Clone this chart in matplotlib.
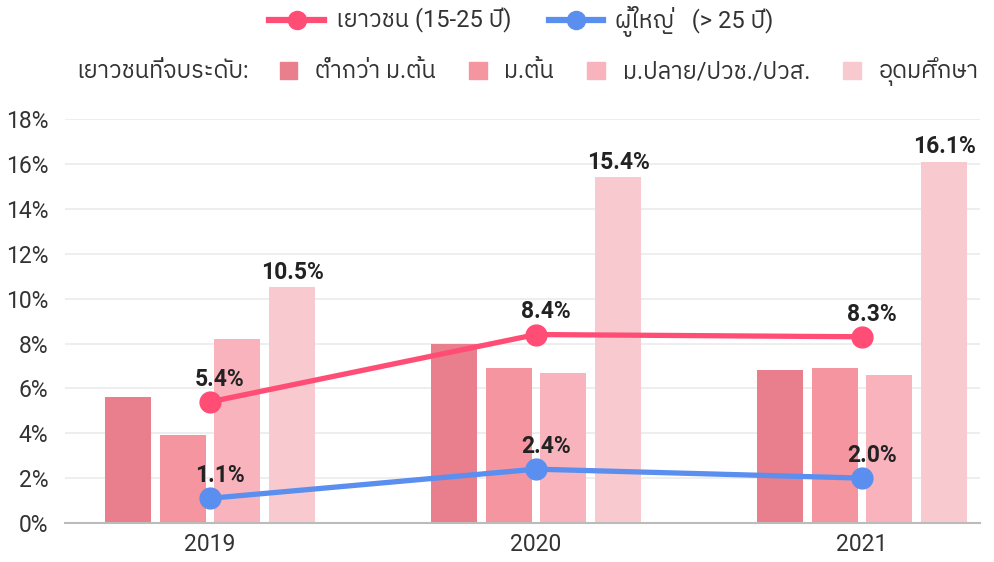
import matplotlib
matplotlib.use("Agg")
import matplotlib.pyplot as plt
from matplotlib import font_manager
from matplotlib.patches import Patch
from matplotlib.lines import Line2D
import numpy as np

# ข้อมูล
years = ["2019", "2020", "2021"]
bar_labels = ["ต่ำกว่า ม.ต้น", "ม.ต้น", "ม.ปลาย/ปวช./ปวส.", "อุดมศึกษา"]
below_lower = [5.6, 8.0, 6.8]
lower_sec = [3.9, 6.9, 6.9]
upper_sec = [8.2, 6.7, 6.6]
higher_ed = [10.5, 15.4, 16.1]
youth = [5.4, 8.4, 8.3]
adult = [1.1, 2.4, 2.0]
line_labels = ["เยาวชน (15-25 ปี)", "ผู้ใหญ่   (> 25 ปี)"]
group_title = "เยาวชนที่จบระดับ:"

# หา font ที่มีภาษาไทย
thai_fonts = sorted({f.name for f in font_manager.fontManager.ttflist if "Thai" in f.name})
fams = ["Roboto"] + thai_fonts + ["Noto Sans", "DejaVu Sans"]
plt.rcParams["font.family"] = fams

bar_colors = ["#e97e8c", "#f4959f", "#f8b3bd", "#f9c9d0"]
red = "#ff4d75"
blue = "#5a8ff0"

fig = plt.figure(figsize=(9.95, 5.62), dpi=100)
ax = fig.add_axes([0.0653, 0.0694, 0.9197, 0.7186])

x = np.arange(len(years))
offsets = [-0.252, -0.083, 0.083, 0.252]
series = [below_lower, lower_sec, upper_sec, higher_ed]
for i, vals in enumerate(series):
    ax.bar(x + offsets[i], vals, width=0.142, color=bar_colors[i], zorder=2)

for xi, v in zip(x, higher_ed):
    ax.text(xi + offsets[3], v + 0.15, f"{v:.1f}%", ha="center", va="bottom",
            fontsize=16.5, fontweight="bold", color="#222222", zorder=5)

ax.plot(x, youth, color=red, lw=3.8, marker="o", ms=15, zorder=4)
ax.plot(x, adult, color=blue, lw=3.8, marker="o", ms=15, zorder=4)
for xi, v in zip(x, youth):
    ax.text(xi + 0.03, v + 0.5, f"{v:.1f}%", ha="center", va="bottom",
            fontsize=16.5, fontweight="bold", color="#222222", zorder=5)
for xi, v in zip(x, adult):
    ax.text(xi + 0.03, v + 0.5, f"{v:.1f}%", ha="center", va="bottom",
            fontsize=16.5, fontweight="bold", color="#222222", zorder=5)

ax.set_xlim(-0.445, 2.362)
ax.set_ylim(0, 18)
ax.set_yticks(np.arange(0, 19, 2))
ax.set_yticklabels([f"{t}%" for t in range(0, 19, 2)])
ax.set_xticks(x)
ax.set_xticklabels(years)
ax.tick_params(axis="both", length=0, labelsize=16.5, colors="#333333")
ax.tick_params(axis="y", pad=12)
ax.tick_params(axis="x", pad=7)
ax.grid(axis="y", color="#ebebeb", lw=1.2, zorder=0)
for s in ["top", "right", "left"]:
    ax.spines[s].set_visible(False)
ax.spines["bottom"].set_color("#bbbbbb")
ax.spines["bottom"].set_linewidth(1.5)
ax.spines["bottom"].set_zorder(3)

# legend แถวบน
lh = [Line2D([0], [0], color=red, lw=4.5, marker="o", ms=13),
      Line2D([0], [0], color=blue, lw=4.5, marker="o", ms=13)]
fig.legend(lh, line_labels, loc="center", bbox_to_anchor=(0.524, 0.962), ncol=2,
           frameon=False, fontsize=17, handlelength=2.3, columnspacing=1.6,
           handletextpad=0.5, labelcolor="#333333")

# legend แถวล่าง
fig.text(0.077, 0.872, group_title, fontsize=17, color="#333333", va="center")
bh = [Patch(color=c) for c in bar_colors]
fig.legend(bh, bar_labels, loc="center left", bbox_to_anchor=(0.281, 0.872), ncol=4,
           frameon=False, fontsize=17, handlelength=0.75, handleheight=0.75,
           columnspacing=1.4, handletextpad=0.75, labelcolor="#333333",
           borderaxespad=0, borderpad=0)

fig.savefig("out.png", dpi=100)
